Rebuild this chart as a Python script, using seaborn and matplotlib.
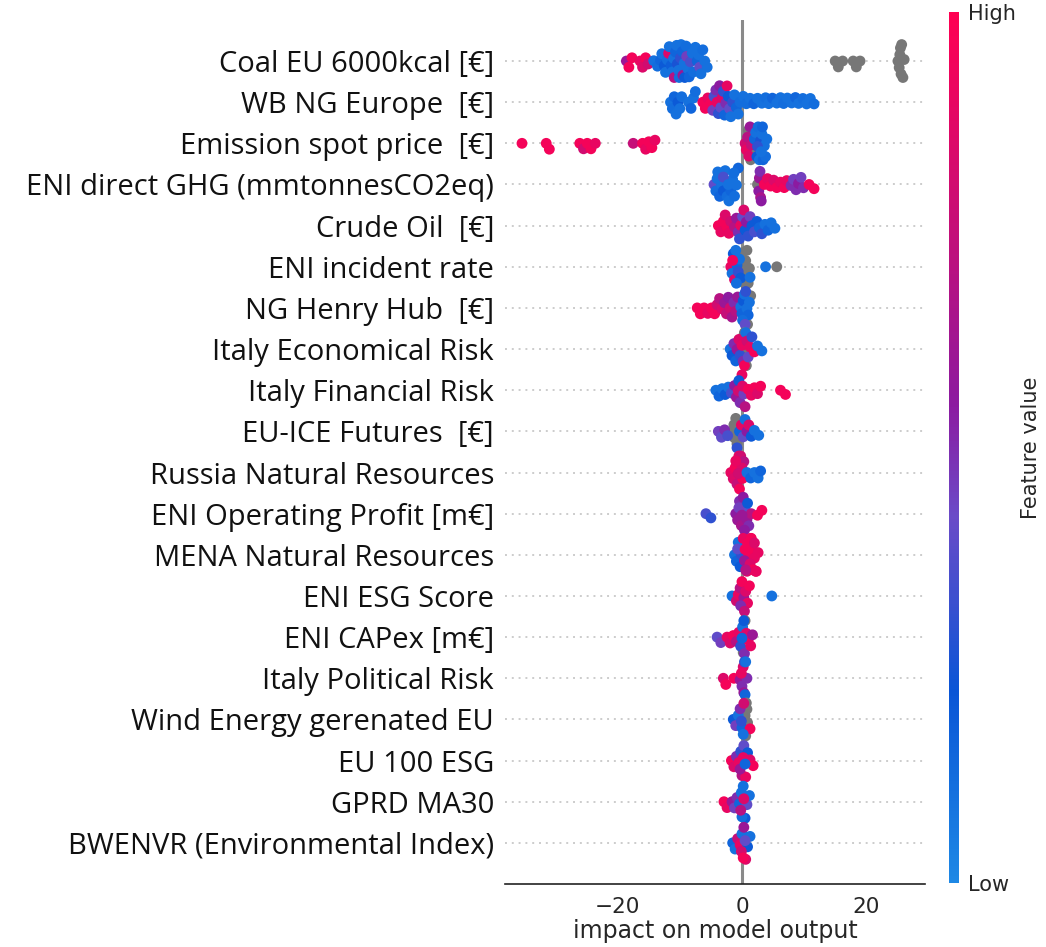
import numpy as np
import pandas as pd
import matplotlib
matplotlib.use("Agg")
import matplotlib as mpl
import matplotlib.pyplot as plt
from matplotlib.colors import LinearSegmentedColormap, Normalize
import seaborn as sns

G = -1.0  # feature value missing -> grey dot

features = [
    "Coal EU 6000kcal [€]", "WB NG Europe  [€]", "Emission spot price  [€]",
    "ENI direct GHG (mmtonnesCO2eq)", "Crude Oil  [€]", "ENI incident rate",
    "NG Henry Hub  [€]", "Italy Economical Risk", "Italy Financial Risk",
    "EU-ICE Futures  [€]", "Russia Natural Resources", "ENI Operating Profit [m€]",
    "MENA Natural Resources", "ENI ESG Score", "ENI CAPex [m€]",
    "Italy Political Risk", "Wind Energy gerenated EU", "EU 100 ESG",
    "GPRD MA30", "BWENVR (Environmental Index)",
]

coal_shap = [-18.6, -18.2, -17.7, -16.4, -16.0, -15.5, -15.1,
             -14.2, -13.6, -13.1, -12.9, -12.5, -12.3, -12.0, -11.8, -11.7, -11.4,
             -11.2, -11.0, -10.9, -10.7, -10.5, -10.4, -10.2, -10.1, -9.9, -9.8,
             -9.6, -9.5, -9.3, -9.2, -9.0, -8.9, -8.7, -8.5, -8.3, -8.0,
             -7.8, -7.5, -7.2, -7.0, -6.8, -6.6, -6.3, -6.0, -5.6,
             15.0, 15.5, 16.2, 17.9, 18.4, 19.0, 25.1, 25.3, 25.5, 25.7,
             25.4, 25.6, 25.9, 26.1]
coal_level = [0.6, 0.95, 0.95, 0.9, 0.85, 0.95, 0.8,
              0.1, 0.12, 0.15, 0.1, 0.2, 0.1, 0.12, 0.85, 0.1, 0.18,
              0.1, 0.1, 0.7, 0.15, 0.1, 0.25, 0.1, 0.12, 0.3, 0.1,
              0.15, 0.6, 0.1, 0.2, 0.12, 0.45, 0.1, 0.15, 0.35, 0.1,
              0.12, 0.1, 0.15, 0.1, 0.4, 0.1, 0.12, 0.1, 0.1,
              G, G, G, G, G, G, G, G, G, G,
              G, G, G, G]

wbng_shap = [-11.5, -11.2, -10.9, -10.6, -10.3, -10.0, -9.7, -8.6, -8.2, -7.8, -7.5,
             -6.3, -5.9, -5.5, -5.1,
             -4.7, -4.5, -4.2, -4.0, -3.8, -3.6, -3.4, -3.2, -3.0, -2.8,
             -2.6, -2.4, -2.2, -2.0, -1.8, -1.5, -1.2, -0.9, -0.6, -0.3,
             0.2, 0.7, 1.3, 1.9, 2.5, 3.2, 3.8, 4.3, 4.9, 5.6,
             6.2, 6.7, 7.3, 8.0, 8.6, 9.1, 9.8, 10.4, 11.0, 11.6]
wbng_level = [0.1, 0.12, 0.15, 0.1, 0.2, 0.1, 0.12, 0.1, 0.15, 0.1, 0.12,
              0.95, 0.95, 0.9, 0.95,
              0.45, 0.35, 0.5, 0.9, 0.3, 0.55, 0.4, 0.85, 0.3, 0.15,
              0.5, 0.9, 0.2, 0.4, 0.1, 0.3, 0.1, 0.15, 0.1, 0.12,
              0.1, 0.12, 0.1, 0.15, 0.1, 0.1, 0.12, 0.1, 0.15, 0.1,
              0.1, 0.12, 0.1, 0.1, 0.15, 0.1, 0.12, 0.1, 0.1, 0.12]

emis_shap = [-35.4, -31.5, -31.0, -26.1, -25.5, -24.9, -24.3, -23.6, -17.5, -16.0, -15.5, -15.0, -14.5, -14.0,
             1.0, 1.4, 1.8,
             0.5, 0.7, 0.9, 1.1, 1.3, 1.5,
             2.0, 2.2, 2.4, 2.6, 2.8, 3.0, 3.2, 3.4, 3.6, 3.8, 4.0, 2.5, 3.1, 3.3]
emis_level = [0.95, 0.95, 0.95, 0.95, 0.8, 0.95, 0.95, 0.9, 0.75, 0.95, 0.9, 0.95, 0.95, 0.9,
              G, G, G,
              0.8, 0.9, 0.7, 0.85, 0.6, 0.75,
              0.15, 0.1, 0.2, 0.12, 0.1, 0.25, 0.1, 0.15, 0.1, 0.12, 0.1, 0.3, 0.1, 0.15]

ghg_shap = [-4.5, -4.2, -3.9, -3.6, -3.3, -3.0, -2.7, -2.4, -2.1, -1.8, -1.5, -1.2, -0.9, -0.6,
            -4.0, -3.0, -2.2, -1.3,
            2.5, 2.7, 2.8, 2.9, 3.0, 3.1,
            3.6, 4.1, 4.6, 5.1, 5.6, 6.2, 6.8, 7.2,
            7.9, 8.3, 8.7, 9.1, 9.5, 9.9,
            10.8, 11.6]
ghg_level = [0.4, 0.12, 0.1, 0.15, 0.1, 0.2, 0.1, 0.12, 0.1, 0.15, 0.1, 0.12, 0.1, 0.15,
             0.1, 0.35, 0.1, 0.12,
             G, 0.55, 0.6, 0.5, 0.65, 0.55,
             0.95, 0.9, 0.95, 0.85, 0.95, 0.9, 0.95, 0.9,
             0.5, 0.45, 0.5, 0.55, 0.45, 0.5,
             0.95, 0.95]

crude_shap = [-3.8, -3.4, -3.0, -2.7, -2.4, -2.1, -1.8,
              -1.2, -0.9, -0.6, -0.4, -0.2, 0.1, 0.3, 0.5, 0.7, 1.0, 1.3, 1.6,
              2.0, 2.4, 2.8, 3.2, 3.7, 4.2, 4.7, 5.3]
crude_level = [0.95, 0.9, 0.95, 0.85, 0.95, 0.9, 0.8,
               0.7, 0.6, 0.5, 0.3, 0.9, 0.4, 0.85, 0.2, 0.55, 0.3, 0.45,
               0.2, 0.35, 0.2, 0.15, 0.3, 0.1, 0.15, 0.1, 0.1]

inc_shap = [0.0, 0.2, 0.4, 0.6, 0.8, 1.0, 1.2, 0.5, 5.6,
            -1.8, -1.6, -1.4, -1.2, -1.0, -0.8, -0.6, -0.4, -0.2, -1.5, -0.9, 1.3, 3.8]
inc_level = [G, G, G, G, G, G, G, G, G,
             0.9, 0.1, 0.2, 0.85, 0.1, 0.15, 0.3, 0.1, 0.2, 0.95, 0.12, 0.1, 0.1]

hh_shap = [1.4, 0.9,
           -7.2, -6.7, -6.1, -5.5, -4.9, -4.4,
           -4.0, -3.6, -3.2, -2.8, -2.5, -2.2, -1.9, -1.6, -1.3, -1.0, -0.7,
           -0.2, 0.0, 0.2, 0.4, 0.6, 0.8, 1.0, 1.2, 0.1, 0.5]
hh_level = [G, G,
            0.95, 0.95, 0.95, 0.9, 0.95, 0.95,
            0.8, 0.7, 0.85, 0.6, 0.75, 0.55, 0.8, 0.65, 0.5, 0.7, 0.6,
            0.1, 0.15, 0.2, 0.1, 0.3, 0.1, 0.15, 0.1, 0.12, 0.4]

econ_shap = [0.3, 0.5, 0.6, 0.7, 0.4,
             -1.9, -1.6, -1.3, -1.0, -0.8, -0.5, -0.3, 0.0, 0.2, 0.4, 0.6, 0.8, 1.0, 1.3, 1.6, 2.0, 2.5, 3.2]
econ_level = [G, G, G, G, G,
              0.1, 0.2, 0.5, 0.15, 0.6, 0.85, 0.3, 0.9, 0.5, 0.95, 0.1, 0.8, 0.4, 0.9, 0.3, 0.95, 0.1, 0.1]

fin_shap = [-4.2, -3.7, -3.2, -2.7, -2.2, -1.7,
            -1.2, -0.9, -0.6, -0.3, 0.0, 0.3, 0.5, -0.5, 0.1,
            1.0, 1.5, 2.0, 2.5, 3.0,
            6.2, 7.0]
fin_level = [0.1, 0.15, 0.1, 0.2, 0.1, 0.35,
             0.55, 0.6, 0.8, 0.5, 0.9, 0.45, 0.7, 0.2, 0.85,
             0.95, 0.9, 0.95, 0.85, 0.95,
             0.95, 0.95]

ice_shap = [-1.5, -1.2, -1.0, -0.8, -1.3,
            -3.8, -3.3, -2.8, -2.3,
            -0.8, -0.4, -0.1, 0.2, 0.5, 0.8, 1.1, 1.5, 2.0, 2.7]
ice_level = [G, G, G, G, G,
             0.45, 0.4, 0.5, 0.35,
             0.3, 0.15, 0.9, 0.4, 0.1, 0.55, 0.85, 0.2, 0.1, 0.1]

rus_shap = [-1.8, -1.4, -1.1, -0.8, -0.5, -0.2, 0.1, 0.3, 0.0, -0.4, -1.0, -0.6,
            0.8, 1.4, 2.0, 2.6, 3.0]
rus_level = [0.9, 0.85, 0.95, 0.75, 0.9, 0.8, 0.95, 0.7, 0.85, 0.95, 0.9, 0.8,
             0.1, 0.15, 0.1, 0.1, 0.15]

op_shap = [-5.8, -5.0,
           -1.0, -0.7, -0.4, -0.1, 0.2, 0.5, 0.8, 1.1, 1.5, -0.5, 0.0, 0.4, 0.9,
           2.5, 3.2]
op_level = [0.35, 0.3,
            0.55, 0.6, 0.5, 0.65, 0.55, 0.4, 0.6, 0.5, 0.7, 0.45, 0.6, 0.55, 0.2,
            0.95, 0.95]

mena_shap = [-1.2, -0.9, -0.6, -0.3, -0.1, -0.7,
             0.2, 0.5, 0.8, 1.1, 1.4, 1.7, 2.0, 2.3, 2.6, 0.4, 0.9, 1.3, 1.8, 2.2, 0.6, 1.5, 2.0]
mena_level = [0.1, 0.15, 0.1, 0.2, 0.3, 0.4,
              0.9, 0.95, 0.85, 0.95, 0.9, 0.95, 0.9, 0.95, 0.9, 0.6, 0.95, 0.85, 0.95, 0.9, 0.7, 0.95, 0.85]

esg_shap = [-1.6, -0.9, -0.6, -0.3, 0.0, 0.3, 0.6, 0.9, 1.2, -0.2, 0.4, 4.8]
esg_level = [0.1, 0.8, 0.9, 0.7, 0.95, 0.6, 0.85, 0.9, 0.95, 0.5, 0.75, 0.1]

capex_shap = [0.2, 0.5,
              -4.0, -3.4, -2.4, -1.9, -1.4, -0.9, -0.5, -0.2, 0.1, 0.4, 0.7, 1.0, 1.4, 1.7, 0.0, 0.3]
capex_level = [G, G,
               0.4, 0.45, 0.9, 0.85, 0.95, 0.7, 0.9, 0.3, 0.1, 0.5, 0.85, 0.95, 0.9, 0.6, 0.15, 0.2]

pol_shap = [-3.0, -2.6, -1.3, -0.3, 0.0, 0.2, 0.4, 0.6, 0.8, -0.1, 0.3, 0.5]
pol_level = [0.85, 0.95, 0.95, 0.6, 0.5, 0.85, 0.3, 0.1, 0.5, 0.9, 0.6, 0.15]

wind_shap = [0.5, 0.7, 0.9, 0.6, 0.8,
             -1.4, -1.0, -0.6, -0.3, 0.0, 0.3, 1.3, -0.1, 0.2]
wind_level = [G, G, G, G, G,
              0.2, 0.45, 0.1, 0.5, 0.15, 0.8, 0.95, 0.3, 0.1]

eu100_shap = [-1.7, -1.3, -0.9, -0.5, -0.2, 0.0, 0.3, 0.6, 0.9, 1.3, 1.8, -0.3, 0.2, 0.5]
eu100_level = [0.95, 0.85, 0.5, 0.9, 0.3, 0.7, 0.4, 0.9, 0.2, 0.85, 0.95, 0.6, 0.9, 0.15]

gprd_shap = [-2.9, -2.4, -1.6, -1.2, -0.8, -0.4, -0.1, 0.2, 0.5, 0.8, 1.2, 0.0, 0.3, -0.2]
gprd_level = [0.95, 0.9, 0.6, 0.45, 0.5, 0.15, 0.1, 0.1, 0.2, 0.4, 0.1, 0.12, 0.85, 0.7]

bw_shap = [-1.5, -1.1, -0.7, -0.3, 0.0, 0.3, 0.6, 0.9, 1.3, -0.1, 0.2, 0.5]
bw_level = [0.15, 0.1, 0.75, 0.9, 0.1, 0.6, 0.85, 0.2, 0.1, 0.8, 0.95, 0.4]

x_ticks = [-20, 0, 20]
cbar_labels = ["Low", "High"]

series = [
    (coal_shap, coal_level), (wbng_shap, wbng_level), (emis_shap, emis_level),
    (ghg_shap, ghg_level), (crude_shap, crude_level), (inc_shap, inc_level),
    (hh_shap, hh_level), (econ_shap, econ_level), (fin_shap, fin_level),
    (ice_shap, ice_level), (rus_shap, rus_level), (op_shap, op_level),
    (mena_shap, mena_level), (esg_shap, esg_level), (capex_shap, capex_level),
    (pol_shap, pol_level), (wind_shap, wind_level), (eu100_shap, eu100_level),
    (gprd_shap, gprd_level), (bw_shap, bw_level),
]

frames = []
for name, (s, l) in zip(features, series):
    assert len(s) == len(l), name
    d = pd.DataFrame({"feature": name, "shap": s, "level": l})
    d["is_col"] = (d["level"] >= 0).astype(int)
    frames.append(d.sort_values("is_col", kind="stable"))
df = pd.concat(frames, ignore_index=True)

cmap = LinearSegmentedColormap.from_list(
    "shap_rb",
    [(0.0, "#1E88E5"), (0.22, "#0A55D6"), (0.42, "#6A4BC8"),
     (0.55, "#8C1AA0"), (0.75, "#C40F78"), (1.0, "#FF0052")])
palette = {lv: (cmap(lv) if lv >= 0 else "#777777") for lv in sorted(df["level"].unique())}

sns.set_style("white")
plt.rcParams["font.family"] = ["DejaVu Sans"]

fig = plt.figure(figsize=(10.46, 9.47), dpi=100)
ax = fig.add_axes([0.483, 0.0665, 0.401, 0.9125])

for i in range(len(features)):
    ax.axhline(i, color="#cccccc", lw=1.4, dashes=(1, 2.5), zorder=-2)
ax.axvline(0, color="#8a8a8a", lw=2.2, zorder=-1)

LAYOUT = 4.6
DOT = 7.8
sns.swarmplot(data=df, x="shap", y="feature", hue="level", order=features,
              palette=palette, size=LAYOUT, linewidth=0, legend=False,
              warn_thresh=1.0, ax=ax)

ax.set_xlim(-38.1, 29.4)
ax.set_ylim(20, -1)
ax.set_xticks(x_ticks)
ax.set_xlabel("impact on model output", fontsize=17, labelpad=2)
ax.set_ylabel("")
for sp in ["top", "right", "left"]:
    ax.spines[sp].set_visible(False)
ax.spines["bottom"].set_color("#222222")
ax.spines["bottom"].set_linewidth(1.2)
ax.tick_params(axis="x", labelsize=15.5, length=5, width=1, color="#333333", pad=4)
ax.tick_params(axis="y", length=0, pad=8)
for t in ax.get_yticklabels():
    t.set_fontfamily(["Open Sans", "DejaVu Sans"])
    t.set_fontsize(21)
    t.set_color("#111111")

# colorbar
cax = fig.add_axes([0.907, 0.068, 0.010, 0.919])
cb = mpl.colorbar.ColorbarBase(cax, cmap=cmap, norm=Normalize(0, 1), ticks=[0, 1])
cb.set_ticklabels(cbar_labels)
cb.outline.set_visible(False)
cax.tick_params(length=0, labelsize=15, pad=6)
cb.set_label("Feature value", fontsize=15, labelpad=4, family=["DejaVu Sans"])

# layout the swarms with the small size, then enlarge the dots (SHAP-like overlap)
fig.canvas.draw()
for coll in ax.collections:
    if "draw" in coll.__dict__:
        del coll.draw
    coll.set_sizes([DOT ** 2])

fig.savefig("out.png", dpi=100)
